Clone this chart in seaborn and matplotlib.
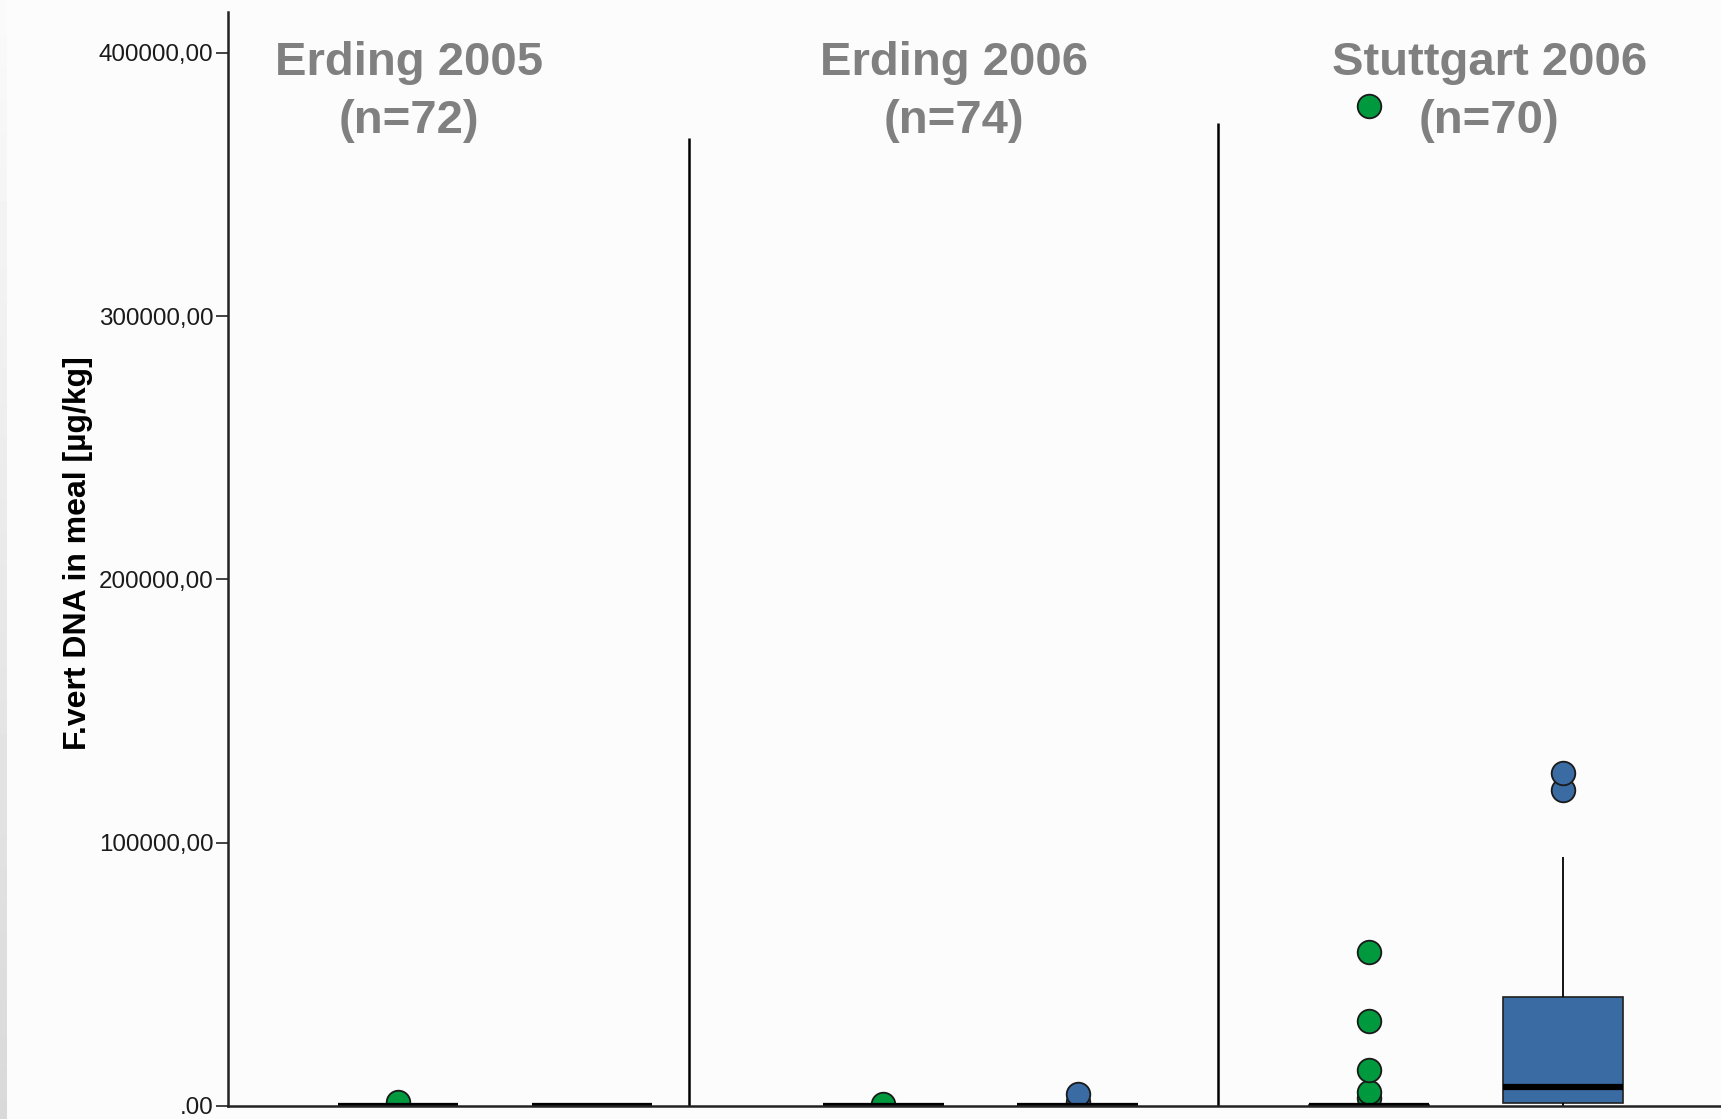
import numpy as np
import pandas as pd
import seaborn as sns
import matplotlib.pyplot as plt

# ---------------------------------------------
# data (µg/kg)
# ---------------------------------------------
locations = ["Erding 2005", "Erding 2006", "Stuttgart 2006"]
n_labels = ["(n=72)", "(n=74)", "(n=70)"]
fractions = ["set 1", "set 2"]

erding05_set1 = [0, 0, 0, 0, 0, 20, 40, 60, 80, 100, 150, 200, 1500]
erding05_set2 = [0, 0, 0, 0, 10, 20, 30, 50, 80, 100, 120, 150, 200]
erding06_set1 = [0, 0, 0, 0, 0, 20, 40, 60, 80, 100, 150, 200, 800]
erding06_set2 = [0, 0, 0, 0, 10, 20, 30, 50, 80, 100, 150, 200, 1500, 4500]
stuttgart_set1 = [0, 0, 0, 0, 0, 0, 10, 20, 30, 50, 60, 80, 100, 120, 150,
                  180, 200, 250, 300, 2900, 5400, 13700, 32400, 58500, 379700]
stuttgart_set2 = [0, 300, 700, 1100, 2000, 4000, 7400, 12000, 25000, 41500,
                  94500, 120200, 126300]

y_ticks = [0, 100000, 200000, 300000, 400000]
y_ticklabels = [".00", "100000,00", "200000,00", "300000,00", "400000,00"]

groups = {
    ("Erding 2005", "set 1"): erding05_set1,
    ("Erding 2005", "set 2"): erding05_set2,
    ("Erding 2006", "set 1"): erding06_set1,
    ("Erding 2006", "set 2"): erding06_set2,
    ("Stuttgart 2006", "set 1"): stuttgart_set1,
    ("Stuttgart 2006", "set 2"): stuttgart_set2,
}
rows = []
for (loc, frac), vals in groups.items():
    for v in vals:
        rows.append({"location": loc, "fraction": frac, "dna": v})
df = pd.DataFrame(rows)

palette = {"set 1": "#00993d", "set 2": "#3a6ba3"}

# ---------------------------------------------
# figure
# ---------------------------------------------
sns.set_style("white")
plt.rcParams["font.family"] = ["Liberation Sans", "DejaVu Sans"]

fig = plt.figure(figsize=(17.21, 11.19), dpi=100, facecolor="#fcfcfc")

# grey strip on the left border
strip = fig.add_axes([0, 0, 7 / 1721, 1])
strip.imshow(np.linspace(0.98, 0.85, 200).reshape(-1, 1), cmap="gray",
             vmin=0, vmax=1, aspect="auto")
strip.axis("off")

ax = fig.add_axes([228 / 1721, 13 / 1119, 1493 / 1721, 1094 / 1119])
ax.set_facecolor("#fcfcfc")

# one call per fraction so the outlier dots get the fraction colour
for frac in fractions:
    sns.boxplot(
        data=df[df["fraction"] == frac], x="location", y="dna",
        hue="fraction", order=locations, hue_order=fractions, dodge=True,
        palette=palette, saturation=1, width=0.8, gap=0.38, linewidth=1.2,
        linecolor="#202020", fliersize=17, showcaps=False, legend=False,
        medianprops=dict(color="black", linewidth=4.5),
        whiskerprops=dict(color="black", linewidth=1.3),
        flierprops=dict(marker="o", markerfacecolor=palette[frac],
                        markeredgecolor="#1a1a1a", markeredgewidth=1.3),
        ax=ax,
    )

# group separators
ax.vlines([0.40, 1.49], 0, [367600, 373400], color="black", linewidth=1.8)

# group headers
for x, loc, n in zip([-0.177, 0.945, 2.048], locations, n_labels):
    ax.text(x, 391500, loc, ha="center", va="baseline", fontsize=34,
            fontweight="bold", color="#808080")
    ax.text(x, 369500, n, ha="center", va="baseline", fontsize=34,
            fontweight="bold", color="#808080")

ax.set_xlim(-0.55, 2.525)
ax.set_ylim(0, 415500)
ax.set_xticks([])
ax.set_xlabel("")
ax.set_ylabel("")
ax.set_yticks(y_ticks)
ax.set_yticklabels(y_ticklabels)
ax.tick_params(axis="y", length=9, width=1.3, pad=1.5, labelsize=17.4,
               labelcolor="#1a1a1a", color="#333333", left=True)

for side in ["top", "right"]:
    ax.spines[side].set_visible(False)
for side in ["left", "bottom"]:
    ax.spines[side].set_linewidth(1.8)
    ax.spines[side].set_color("#222222")

fig.text(78 / 1721, 1 - 553 / 1119, "F.vert DNA in meal [µg/kg]",
         rotation=90, ha="center", va="center", fontsize=23,
         fontweight="bold", color="black")

fig.savefig("out.png", dpi=100, facecolor=fig.get_facecolor())
